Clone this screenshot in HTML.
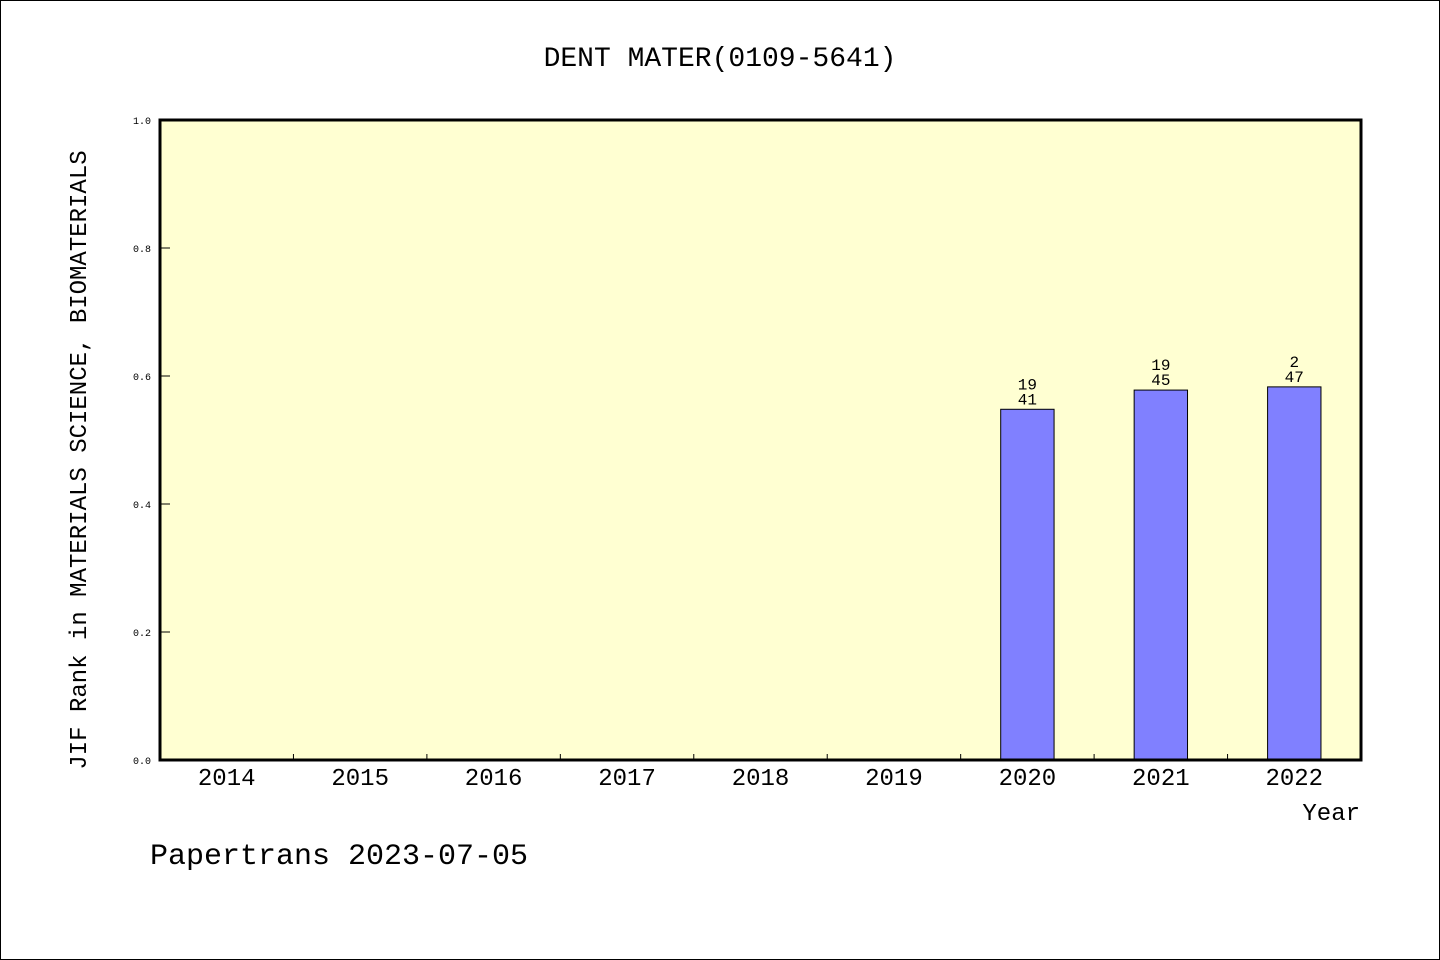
<!DOCTYPE html>
<html><head><meta charset="utf-8"><style>
html,body{margin:0;padding:0;background:#fff}
svg{display:block}
text{font-family:"WenQuanYi Zen Hei","Liberation Mono",monospace;fill:#000}
</style></head><body>
<svg id="chart" width="1440" height="960" xmlns="http://www.w3.org/2000/svg">
<rect x="0.5" y="0.5" width="1439" height="959" fill="#fff" stroke="#000"/>
<text x="720" y="66" font-size="28" text-anchor="middle">DENT MATER(0109-5641)</text>
<rect x="160" y="120" width="1201" height="640" fill="#ffffd2"/>
<g id="marks"></g>
<rect x="160" y="120" width="1201" height="640" fill="none" stroke="#000" stroke-width="3"/>
<text transform="translate(86,460) rotate(-90)" font-size="24" text-anchor="middle">JIF Rank in MATERIALS SCIENCE, BIOMATERIALS</text>
<text x="1360" y="820" font-size="24" text-anchor="end">Year</text>
<text x="150" y="864" font-size="30">Papertrans 2023-07-05</text>
</svg>
<script>
const years=["2014","2015","2016","2017","2018","2019","2020","2021","2022"];
const values=[null,null,null,null,null,null,0.548,0.578,0.583];
const labelTop=["","","","","","","19","19","2"];
const labelBottom=["","","","","","","41","45","47"];
const yTicks=[0,0.2,0.4,0.6,0.8,1.0];
const yTickLabels=["0.0","0.2","0.4","0.6","0.8","1.0"];

const X0=160,X1=1361,Y0=760,Y1=120;
const slot=(X1-X0)/years.length;
const xc=i=>X0+slot*(i+0.5);
const y=v=>Y0-(v/1.0)*(Y0-Y1);
const NS="http://www.w3.org/2000/svg";
const g=document.getElementById('marks');
const svg=document.getElementById('chart');
function mk(t,a,p){const e=document.createElementNS(NS,t);for(const k in a)e.setAttribute(k,a[k]);(p||g).appendChild(e);return e;}

yTicks.forEach((v,i)=>{
  const l=mk('line',{x1:X0,x2:X0+10,y1:y(v),y2:y(v),stroke:'#000','stroke-width':1});
  
  
  const t=mk('text',{x:151,y:y(v)+4,'font-size':10,'text-anchor':'end'},svg);
  t.textContent=yTickLabels[i];
  
  
});
years.forEach((yr,i)=>{
  if(i>0){
    const l=mk('line',{x1:X0+slot*i,x2:X0+slot*i,y1:Y0,y2:Y0-6,stroke:'#000','stroke-width':1});
    
    
  }
  const t=mk('text',{x:xc(i),y:785,'font-size':24,'text-anchor':'middle'},svg);
  t.textContent=yr;
  
  
  const v=values[i];
  if(v!=null){
    const bw=slot*0.4;
    const b=mk('rect',{x:xc(i)-bw/2,y:y(v),width:bw,height:Y0-y(v),fill:'#8080ff',stroke:'#000','stroke-width':1});
    
    
    const t1=mk('text',{x:xc(i),y:y(v)-20,'font-size':16,'text-anchor':'middle'});
    t1.textContent=labelTop[i];
    
    
    const t2=mk('text',{x:xc(i),y:y(v)-5,'font-size':16,'text-anchor':'middle'});
    t2.textContent=labelBottom[i];
    
    
  }
});
</script>
</body></html>
